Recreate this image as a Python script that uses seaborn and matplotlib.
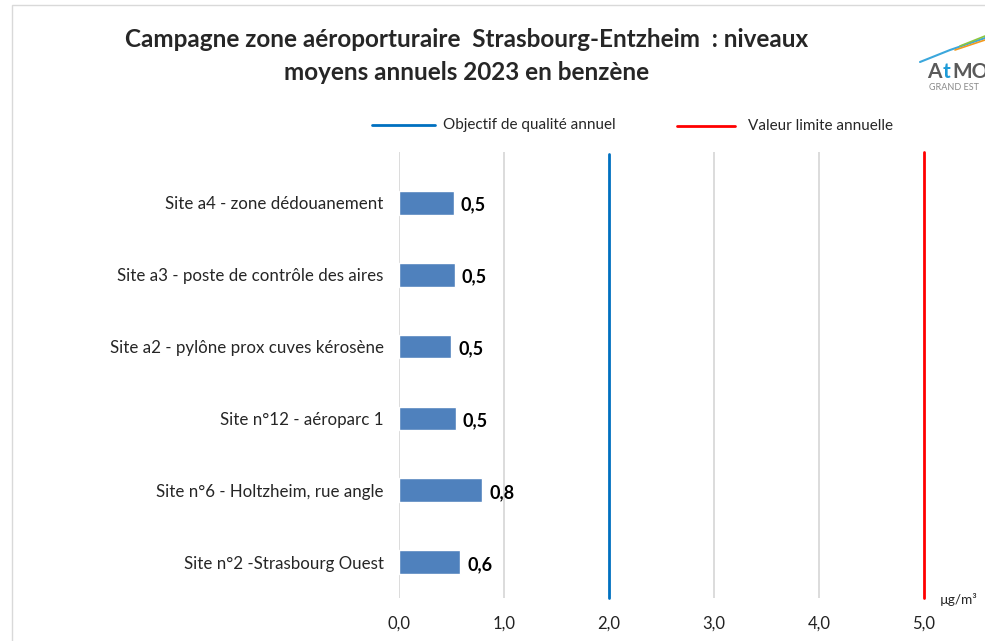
import matplotlib
matplotlib.use("Agg")
import matplotlib.pyplot as plt
import seaborn as sns
import pandas as pd
from matplotlib.patches import Rectangle
from matplotlib.lines import Line2D

# data
sites = ["Site a4 - zone dédouanement",
         "Site a3 - poste de contrôle des aires",
         "Site a2 - pylône prox cuves kérosène",
         "Site n°12 - aéroparc 1",
         "Site n°6 - Holtzheim, rue angle",
         "Site n°2 -Strasbourg Ouest"]
benzene = [0.52, 0.53, 0.50, 0.54, 0.79, 0.58]
objectif_qualite = 2.0
valeur_limite = 5.0
xticks = [0, 1, 2, 3, 4, 5]

df = pd.DataFrame({"site": sites, "benzene": benzene})

sns.set_theme(style="white")
plt.rcParams["font.family"] = ["Lato", "DejaVu Sans"]

fig = plt.figure(figsize=(9.85, 6.41), dpi=100)
ax = fig.add_axes([0.405, 0.067, 0.533, 0.696])

# grid lines first, under the bars
for x in xticks:
    if x in (objectif_qualite, valeur_limite):
        continue
    ax.axvline(x, color="#D9D9D9", lw=1.3, zorder=0)

sns.barplot(data=df, y="site", x="benzene", orient="h", color="#4F81BD",
            saturation=1, width=0.33, ax=ax, zorder=2)

ax.axvline(objectif_qualite, color="#0070C0", lw=2, zorder=1, ymax=0.995, clip_on=False)
ax.axvline(valeur_limite, color="#FF0000", lw=2, zorder=1, clip_on=False)

for i, v in enumerate(benzene):
    ax.text(v + 0.07, i + 0.03, f"{v:.1f}".replace(".", ","), va="center", ha="left",
            fontsize=13, fontweight="bold", color="black")

ax.set_xlim(0, 5)
ax.set_ylim(5.5, -0.71)
ax.set_xticks(xticks)
ax.set_xticklabels([f"{x:.1f}".replace(".", ",") for x in xticks], fontsize=12, color="#222222")
ax.tick_params(axis="x", length=0, pad=13)
ax.tick_params(axis="y", length=0, pad=11, labelsize=12.2)
ax.set_xlabel("")
ax.set_ylabel("")
for s in ax.spines.values():
    s.set_visible(False)

# title
fig.text(0.474, 1 - 56 / 641, "Campagne zone aéroporturaire  Strasbourg-Entzheim  : niveaux\nmoyens annuels 2023 en benzène",
         ha="center", va="center", fontsize=17.5, fontweight="bold", linespacing=1.5)

# legend drawn as lines + text
fig.add_artist(Line2D([372 / 985, 435 / 985], [1 - 125 / 641] * 2, color="#0070C0", lw=2))
fig.text(443 / 985, 1 - 125 / 641, "Objectif de qualité annuel", va="center", ha="left", fontsize=11)
fig.add_artist(Line2D([677 / 985, 735 / 985], [1 - 126 / 641] * 2, color="#FF0000", lw=2))
fig.text(748 / 985, 1 - 126 / 641, "Valeur limite annuelle", va="center", ha="left", fontsize=11)

# unit
fig.text(940 / 985, 1 - 600 / 641, "µg/m³", va="center", ha="left", fontsize=9.8)

# chart frame
fig.add_artist(Rectangle((12 / 985, -0.1), 1.1, 1 - 5 / 641 + 0.1, fill=False,
                         edgecolor="#D9D9D9", lw=1, transform=fig.transFigure))

# logo (approximation)
fig.text(927 / 985, 1 - 72 / 641, "A", fontsize=15, fontweight="bold", color="#5A5A5A", va="center")
fig.text(943 / 985, 1 - 72 / 641, "t", fontsize=15, fontweight="bold", color="#1E9BD7", va="center")
fig.text(952 / 985, 1 - 72 / 641, "MO", fontsize=15, fontweight="bold", color="#5A5A5A", va="center")
fig.text(929 / 985, 1 - 88 / 641, "GRAND EST", fontsize=6.5, color="#8A8A8A", va="center")
fig.add_artist(Line2D([920 / 985, 950 / 985, 985 / 985], [1 - 62 / 641, 1 - 50 / 641, 1 - 38 / 641],
                      color="#3BA7DC", lw=1.5))
fig.add_artist(Line2D([955 / 985, 985 / 985], [1 - 50 / 641, 1 - 40 / 641], color="#F39A1E", lw=1.2))
fig.add_artist(Line2D([960 / 985, 985 / 985], [1 - 46 / 641, 1 - 36 / 641], color="#8DC63F", lw=1.2))

fig.savefig("out.png", dpi=100)
